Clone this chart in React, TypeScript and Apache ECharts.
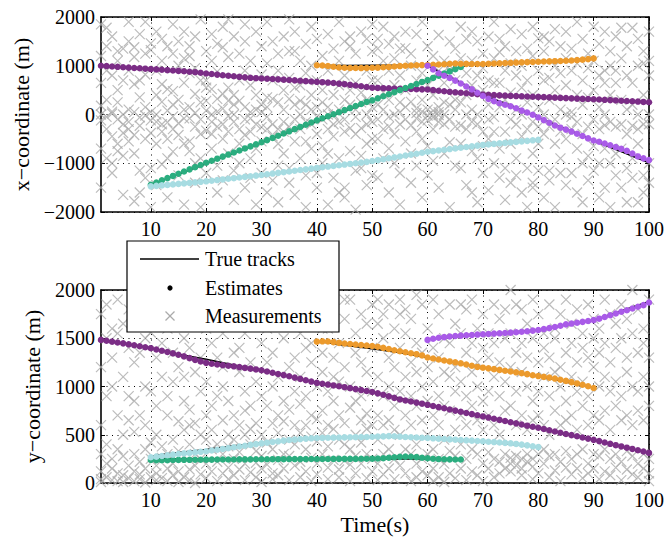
import React, { useEffect, useRef } from "react";
import * as echarts from "echarts";

// ---------- Data ----------
const timeTicks = [10, 20, 30, 40, 50, 60, 70, 80, 90, 100];

// Estimates (one value per second, starting at the given time)
const purpleStart = 1;
const purpleX = [
  1000, 993, 985, 978, 970, 962, 955, 948, 940, 932,
  925, 918, 910, 903, 895, 887, 878, 868, 856, 842,
  830, 818, 806, 795, 784, 773, 762, 752, 745, 739,
  733, 727, 721, 715, 708, 700, 692, 684, 677, 670,
  663, 655, 645, 634, 622, 609, 595, 580, 565, 550,
  545, 540, 536, 532, 528, 525, 522, 519, 516, 513,
  500, 488, 476, 465, 455, 445, 435, 426, 417, 409,
  403, 397, 392, 387, 382, 378, 373, 369, 365, 361,
  356, 351, 346, 341, 336, 331, 326, 321, 317, 313,
  307, 301, 295, 289, 283, 277, 271, 265, 258, 251,
];
const purpleY = [
  1483, 1474, 1465, 1456, 1447, 1437, 1427, 1417, 1407, 1397,
  1384, 1370, 1357, 1343, 1329, 1312, 1294, 1276, 1260, 1245,
  1236, 1228, 1221, 1215, 1209, 1201, 1193, 1185, 1177, 1168,
  1156, 1143, 1130, 1118, 1106, 1092, 1079, 1065, 1051, 1038,
  1029, 1020, 1011, 1002, 993, 983, 973, 963, 953, 943,
  929, 914, 898, 882, 866, 855, 844, 833, 822, 810,
  798, 786, 774, 762, 750, 738, 726, 714, 702, 690,
  678, 666, 654, 642, 630, 618, 606, 594, 583, 572,
  560, 547, 534, 521, 508, 496, 484, 472, 460, 447,
  434, 420, 406, 392, 379, 366, 353, 340, 326, 312,
];
const greenStart = 10;
const greenX = [
  -1440, -1395, -1350, -1305, -1260, -1215, -1170, -1125, -1080, -1035,
  -990, -948, -906, -864, -822, -780, -738, -696, -654, -612,
  -570, -525, -480, -435, -390, -345, -300, -255, -210, -165,
  -120, -78, -36, 6, 48, 90, 132, 174, 216, 258,
  290, 332, 374, 416, 458, 500, 542, 584, 626, 668,
  705, 750, 795, 840, 885, 930, 975,
];
const greenY = [
  238, 237, 236, 237, 238, 239, 240, 240, 241, 241,
  242, 242, 243, 243, 244, 244, 245, 245, 245, 246,
  246, 246, 247, 247, 247, 248, 248, 248, 248, 249,
  249, 249, 249, 250, 250, 250, 250, 250, 251, 251,
  252, 254, 257, 262, 267, 271, 273, 272, 268, 262,
  256, 251, 248, 246, 245, 244, 244,
];
const cyanStart = 10;
const cyanX = [
  -1474, -1464, -1454, -1444, -1434, -1423, -1413, -1402, -1392, -1381,
  -1371, -1358, -1345, -1332, -1319, -1306, -1293, -1280, -1267, -1254,
  -1241, -1226, -1212, -1197, -1183, -1168, -1154, -1139, -1125, -1110,
  -1096, -1082, -1068, -1055, -1041, -1027, -1014, -1000, -986, -972,
  -955, -936, -917, -898, -880, -861, -842, -823, -804, -785,
  -765, -751, -737, -723, -709, -695, -681, -667, -653, -639,
  -624, -614, -603, -593, -583, -572, -562, -551, -541, -530, -520,
];
const cyanY = [
  267, 273, 280, 287, 294, 301, 307, 312, 318, 323,
  329, 337, 345, 353, 361, 370, 378, 386, 395, 403,
  411, 418, 425, 432, 439, 445, 450, 455, 460, 463,
  466, 468, 469, 470, 472, 473, 474, 475, 476, 477,
  479, 481, 483, 486, 484, 480, 477, 474, 471, 469,
  466, 463, 459, 456, 452, 449, 446, 442, 439, 435,
  432, 428, 424, 420, 416, 411, 405, 398, 390, 381, 372,
];
const orangeStart = 40;
const orangeX = [
  1010, 1005, 995, 980, 965, 958, 955, 955, 952, 955,
  958, 962, 968, 976, 985, 993, 1000, 1006, 1010, 1013,
  1015, 1020, 1025, 1032, 1040, 1045, 1042, 1038, 1036, 1035,
  1035, 1040, 1045, 1050, 1055, 1060, 1065, 1070, 1074, 1078,
  1082, 1086, 1090, 1094, 1098, 1102, 1108, 1116, 1125, 1136, 1150,
];
const orangeY = [
  1465, 1468, 1466, 1460, 1452, 1445, 1440, 1435, 1430, 1425,
  1420, 1412, 1400, 1388, 1376, 1365, 1355, 1345, 1335, 1322,
  1300, 1290, 1280, 1270, 1260, 1250, 1240, 1228, 1215, 1203,
  1195, 1188, 1180, 1172, 1163, 1155, 1147, 1138, 1128, 1117,
  1108, 1100, 1092, 1082, 1070, 1058, 1045, 1032, 1018, 1002, 985,
];
const violetStart = 60;
const violetX = [
  1000, 925, 845, 795, 750, 695, 636, 575, 515, 445,
  380, 320, 275, 232, 200, 168, 128, 80, 40, -5,
  -60, -115, -170, -225, -270, -310, -350, -395, -440, -490,
  -533, -560, -595, -630, -668, -704, -745, -800, -860, -900, -935,
];
const violetY = [
  1483, 1495, 1505, 1512, 1518, 1523, 1527, 1531, 1534, 1538,
  1541, 1544, 1548, 1551, 1555, 1558, 1562, 1567, 1572, 1579,
  1586, 1595, 1605, 1617, 1630, 1644, 1652, 1661, 1670, 1679,
  1688, 1703, 1720, 1738, 1756, 1774, 1790, 1808, 1826, 1843, 1870,
];

// True tracks ([time, value])
const purpleTrueX = [[1, 1000], [10, 932], [20, 842], [30, 739], [40, 670], [50, 550], [60, 513], [70, 409], [80, 361], [90, 313], [100, 251]];
const purpleTrueY = [[1, 1490], [10, 1400], [15, 1335], [20, 1282], [25, 1222], [30, 1170], [40, 1040], [50, 945], [60, 810], [70, 690], [80, 572], [90, 447], [100, 312]];
const greenTrueX = [[10, -1440], [66, 975]];
const greenTrueY = [[10, 255], [20, 250], [30, 248], [40, 250], [50, 250], [55, 250], [60, 250], [66, 243]];
const cyanTrueX = [[10, -1474], [30, -1241], [50, -955], [60, -765], [80, -520]];
const cyanTrueY = [[10, 275], [12, 295], [15, 315], [20, 348], [25, 385], [30, 418], [40, 467], [50, 480], [55, 482], [60, 466], [70, 432], [80, 372]];
const orangeTrueX = [[40, 1010], [45, 1005], [50, 1008], [55, 1012], [60, 1015], [65, 1040], [70, 1035], [80, 1082], [90, 1150]];
const orangeTrueY = [[40, 1470], [45, 1428], [50, 1390], [55, 1350], [60, 1300], [70, 1195], [80, 1108], [90, 985]];
const violetTrueX = [[60, 1000], [65, 720], [69, 470], [70, 400], [75, 190], [80, -60], [90, -533], [100, -990]];
const violetTrueY = [[60, 1490], [70, 1541], [80, 1586], [90, 1688], [100, 1880]];

// Measurements (clutter), one list per second t = 1..100
const measX = [
  [1850, 1200, 650, 180, 0, -120, -700, -1500],
  [1780, 900, 300, -50, -300, -900, 1400],
  [1600, 800, 60, 20, -450, -1000, -1200],
  [1100, 500, 250, -100, -600, -750, 1300],
  [1350, 700, 0, -200, -380, -850, -1650],
  [1500, 900, 100, -150, -300, -550, 1900],
  [1380, 1180, 620, 50, -420, -800, -1780],
  [1650, 700, 350, -60, -230, -1150, -1600],
  [1250, 820, 150, -20, -500, -1300, 1900],
  [1460, 1320, 50, -120, -380, -1100, -1900],
  [1700, 900, 400, 0, -150, -600, -1450],
  [1100, 620, 260, -200, -350, -1020, 1550],
  [1400, 520, 80, -160, -500, -900, -1700],
  [1250, 480, 200, -40, -300, -760, 1850],
  [1500, 1000, 300, -180, -420, -1250],
  [1150, 650, 100, -80, -600, -1850, 1700],
  [1400, 1200, 850, 150, -80, -550, -750],
  [1600, 950, 420, 30, -250, -1000, -1400],
  [1950, 700, 250, -100, -400, -900, -1900],
  [1300, 700, 550, 280, 80, -330, -1200],
  [1100, 520, 0, -150, -400, -700, 1650],
  [1450, 880, 320, 60, -250, -1050, -1600],
  [1800, 1380, 420, 120, -200, -500, -1350],
  [1180, 550, 280, -30, -350, -800, 1950],
  [1600, 400, 200, 0, -150, -1150, -1750],
  [1250, 700, 280, -300, -600, -1000],
  [1500, 900, 150, -100, -420, -1500, 1850],
  [1100, 600, 50, -80, -350, -900, -1300],
  [1700, 400, 100, -200, -700, -1850],
  [1400, 820, 200, 50, -260, -550, -1200],
  [1050, 350, 150, -50, -300, -1600, 1900],
  [1500, 700, 320, -200, -450, -1350],
  [1250, 900, 250, -300, -600, -1050, -1800],
  [1600, 500, 100, -150, -350, -800],
  [1300, 750, 320, -250, -1100, -1400, 1950],
  [1700, 1300, 550, 200, -100, -550, -1650],
  [1100, 600, 280, 0, -300, -900],
  [1450, 850, 200, -150, -550, -1250, -1900],
  [1800, 1000, 400, 100, -200, -700],
  [1550, 700, 150, -50, -400, -1200, -1500],
  [1200, 500, 250, -100, -650, -1000],
  [1650, 900, 150, 0, -300, -800, -1850],
  [1350, 400, 0, -200, -450, -1300],
  [1900, 1100, 600, 100, -150, -900, -1600],
  [1500, 800, 300, -100, -350, -1500, -1700],
  [1600, 1400, 500, 200, -280, -750],
  [1250, 650, 100, -50, -400, -1150, -1950],
  [1700, 450, 250, -280, -850, -1100],
  [1550, 900, 300, 0, -200, -600, -1450],
  [1300, 700, 150, -150, -500, -1250, 1850],
  [1550, 1350, 700, 200, -100, -500, -1300],
  [1800, 1100, 450, 100, -300, -900],
  [1450, 900, 300, -50, -250, -700, -1600],
  [1600, 1150, 600, 0, -400, -1000],
  [1350, 800, 250, 50, -200, -1200, -1850],
  [1700, 1360, 500, 150, -100, -550],
  [1250, 1000, 260, -220, -800, -1400],
  [1650, 700, 120, 30, -80, -350, -1050],
  [1900, 850, 300, 60, -150, -500, -1700],
  [1400, 600, 100, -20, -120, -650, -1250],
  [1200, 400, 0, 80, -60, -300, -950],
  [1630, 900, 150, -10, -150, 50, -1500],
  [1100, 650, 250, 0, -200, -800],
  [1500, 1000, 900, 200, -100, -570, -1900],
  [1350, 700, 300, 100, -250, -1050],
  [1800, 1150, 250, -220, -600, -1100],
  [1550, 850, 400, 0, -300, -1450],
  [1700, 1100, 600, 100, -150, -750, -1600],
  [1500, 800, 0, -200, -900, -1800],
  [1250, 950, 500, -350, -650, -1200],
  [1600, 700, 200, -100, -500, -1550],
  [1900, 1150, 650, -50, -350, -1000],
  [1550, 1280, 650, 150, -700, -1300],
  [1400, 900, 300, -350, -1100, -1750],
  [1750, 1050, 450, -100, -600, -1400],
  [1300, 800, 100, -200, -900, -1250],
  [1650, 1000, 550, 0, -450, -1600],
  [1350, 700, 250, -300, -1100, -1900],
  [1800, 1200, 400, -150, -800, -1400, -1500],
  [1560, 900, 150, -250, -600, -1150],
  [1600, 1300, 700, 0, -400, -1700],
  [1500, 750, 300, -250, -1150, -1350],
  [1750, 1000, 500, -100, -600, -1900],
  [1400, 850, 100, -350, -900, -1200],
  [1700, 1150, 600, 0, -500, -1450],
  [1350, 900, 50, -50, -300, -1200],
  [1900, 1050, 400, -150, -700, -1600],
  [1550, 700, 200, -400, -1000, -1800],
  [1250, 950, 350, -250, -850, -1350],
  [1800, 1100, 500, -100, -650, -1150],
  [1450, 800, 150, -300, -1000, -1700],
  [1700, 650, 900, 0, -220, -700, -1500],
  [1300, 1000, 400, -150, -1000, -1900],
  [1600, 900, 650, -250, -800, -1250],
  [1780, 1150, 300, -200, -700, -1500],
  [1400, 800, 100, -400, -1100, -1800],
  [1780, 650, 200, -230, -900, -1300],
  [1550, 1000, 0, -300, -600, -1800],
  [1300, 1050, 400, -200, -1250, -1600],
  [1700, 1100, 800, 0, -200, -1000, -1400],
];
const measY = [
  [1750, 1200, 600, 300, 120, 40, 10],
  [1850, 1500, 900, 400, 200, 60],
  [1300, 1000, 250, 150, 30, 1600],
  [1550, 700, 350, 100, 20, 1900],
  [1650, 1100, 500, 280, 80, 10],
  [1400, 900, 650, 180, 50, 1800],
  [1250, 850, 530, 300, 120, 20],
  [1950, 1350, 700, 220, 90, 40],
  [1500, 1000, 600, 350, 150, 5],
  [1800, 1560, 950, 420, 250, 60],
  [1300, 800, 500, 180, 100, 30],
  [1700, 1100, 380, 260, 50, 1450],
  [1600, 900, 700, 300, 150, 20],
  [1350, 1050, 450, 200, 80, 1900],
  [1750, 1200, 640, 330, 120, 10],
  [1500, 850, 550, 280, 60, 1100],
  [1400, 760, 600, 400, 140, 30],
  [1850, 1150, 620, 300, 180, 0],
  [1300, 950, 500, 250, 90, 1700],
  [1600, 1050, 700, 450, 200, 50],
  [1450, 800, 550, 350, 120, 1900],
  [1750, 1300, 900, 400, 220, 20],
  [1200, 1000, 650, 300, 100, 1550],
  [1650, 850, 500, 380, 160, 40],
  [1900, 1350, 700, 450, 250, 80],
  [1400, 1150, 600, 320, 140, 1800],
  [1550, 950, 750, 500, 200, 30],
  [1250, 800, 560, 400, 110, 1700],
  [1800, 1050, 620, 330, 210, 60],
  [1450, 900, 500, 280, 150, 10],
  [1600, 1250, 800, 420, 190, 1950],
  [1350, 1000, 620, 350, 100, 40],
  [1700, 1100, 700, 520, 240, 80],
  [1500, 850, 640, 300, 150, 1900],
  [1900, 1200, 760, 450, 280, 30],
  [1300, 950, 600, 400, 180, 1650],
  [1550, 1100, 820, 520, 220, 60],
  [1750, 900, 600, 350, 120, 1400],
  [1450, 1250, 700, 480, 260, 20],
  [1850, 1000, 660, 430, 200, 90],
  [1350, 1150, 750, 520, 300, 1600],
  [1600, 950, 600, 380, 160, 40],
  [1800, 1300, 850, 560, 240, 1100],
  [1450, 1050, 700, 450, 140, 60],
  [1700, 1200, 620, 400, 230, 1900],
  [1900, 1000, 780, 350, 190, 20],
  [1550, 1350, 850, 500, 280, 100],
  [1250, 900, 650, 420, 200, 1750],
  [1650, 1150, 720, 560, 300, 50],
  [1850, 1400, 950, 600, 250, 120],
  [1900, 1650, 1100, 700, 450, 200, 30],
  [1750, 1500, 900, 600, 300, 90],
  [1850, 1300, 1000, 650, 350, 150],
  [1600, 1200, 800, 550, 250, 40],
  [1900, 1750, 1400, 950, 500, 180],
  [1800, 1550, 1100, 700, 350, 100],
  [1700, 1250, 900, 600, 300, 20],
  [1950, 1450, 1150, 800, 400, 200, 60],
  [1850, 1350, 1000, 650, 250, 120],
  [1600, 1200, 850, 500, 300, 80],
  [1900, 1400, 1050, 700, 350, 150, 20],
  [1750, 1300, 900, 600, 250, 60],
  [1500, 1150, 800, 450, 200, 10],
  [1850, 1450, 1100, 750, 330, 100],
  [1650, 1200, 950, 550, 280, 50],
  [1850, 1550, 1050, 700, 400, 150],
  [1800, 1350, 900, 600, 250, 30],
  [1900, 1450, 1150, 800, 350, 120],
  [1600, 1250, 1000, 650, 300, 80],
  [1750, 1400, 850, 550, 200, 20],
  [1550, 1300, 950, 700, 320, 150],
  [1850, 1450, 1100, 600, 250, 60],
  [1700, 1250, 900, 500, 220, 100],
  [1800, 1500, 1050, 750, 300, 150],
  [2000, 1550, 1200, 800, 260, 200, 120],
  [1850, 1350, 950, 600, 280, 180],
  [1800, 1450, 1150, 700, 250, 150, 80],
  [1650, 1300, 1000, 550, 300, 220],
  [1900, 1500, 850, 650, 250, 170, 40],
  [1750, 1250, 950, 700, 300, 100],
  [1550, 1400, 1100, 600, 350, 200],
  [1850, 1300, 900, 500, 280, 60],
  [1600, 1500, 1150, 750, 300, 130],
  [1750, 1200, 1000, 600, 220, 20],
  [1900, 1350, 850, 650, 330, 160],
  [1650, 1450, 1100, 700, 250, 90],
  [1800, 1250, 950, 550, 300, 150],
  [1550, 1400, 1050, 800, 350, 50],
  [1850, 1300, 900, 600, 200, 100],
  [1700, 1500, 1200, 700, 300, 150],
  [1600, 1350, 1000, 650, 280, 40],
  [1900, 1450, 1100, 750, 350, 120],
  [1750, 1250, 950, 550, 250, 80],
  [1650, 1400, 1050, 800, 300, 160],
  [1850, 1500, 900, 650, 220, 30],
  [1700, 1300, 1150, 700, 330, 140],
  [2000, 1550, 1000, 600, 280, 90],
  [1800, 1350, 950, 750, 200, 60],
  [1600, 1450, 1100, 650, 300, 150],
  [1900, 1300, 1000, 800, 250, 100, 20],
];

// ---------- Styling ----------
const FONT = '"Liberation Serif", "Times New Roman", serif';
const COLORS = {
  purple: "#7B2D86",
  green: "#2BAD7F",
  cyan: "#A7DCE2",
  orange: "#EC9A2C",
  violet: "#A95BE8",
  meas: "#ABABAB",
};
const CROSS = "path://M0,0L10,10M10,0L0,10";

const toSeries = (start: number, vals: number[]) => vals.map((v, i) => [start + i, v]);
const toMeas = (lists: number[][]) => lists.flatMap((vals, i) => vals.map((v) => [i + 1, v]));
const fmt = (v: number) => String(v).replace("-", "\u2212");

export default function App() {
  const ref = useRef<HTMLDivElement>(null);

  useEffect(() => {
    if (!ref.current) return;
    const chart = echarts.init(ref.current, null, { renderer: "svg" });

    const grids = [
      { left: 101, top: 17, width: 551, height: 195 },
      { left: 101, top: 290, width: 551, height: 193 },
    ];

    const axisLine = { show: true, onZero: false, lineStyle: { color: "#000", width: 1.6 } };
    const splitLine = { show: true, lineStyle: { color: "#000", type: [1, 4.5], width: 1 } };
    const tickStyle = { show: true, inside: true, length: 4, lineStyle: { color: "#000", width: 1 } };
    const labelStyle = { color: "#000", fontFamily: FONT, fontSize: 20 };

    const xAxes: any[] = [];
    const yAxes: any[] = [];
    [0, 1].forEach((g) => {
      xAxes.push({
        type: "value", gridIndex: g, min: 1, max: 100, position: "bottom",
        axisLine, axisTick: { ...tickStyle, customValues: timeTicks },
        axisLabel: { ...labelStyle, margin: 7, customValues: timeTicks },
        splitLine,
        name: g === 1 ? "Time(s)" : "",
        nameLocation: "middle", nameGap: 30,
        nameTextStyle: { color: "#000", fontFamily: FONT, fontSize: 22 },
      });
      xAxes.push({
        type: "value", gridIndex: g, min: 1, max: 100, position: "top",
        axisLine, axisTick: { ...tickStyle, customValues: timeTicks },
        axisLabel: { show: false }, splitLine: { show: false },
      });
    });
    yAxes.push({
      type: "value", gridIndex: 0, min: -2000, max: 2000, interval: 1000, position: "left",
      axisLine, axisTick: tickStyle,
      axisLabel: { ...labelStyle, margin: 6, formatter: fmt },
      splitLine,
      name: "x\u2212coordinate (m)", nameLocation: "middle", nameGap: 58, nameRotate: 90,
      nameTextStyle: { color: "#000", fontFamily: FONT, fontSize: 22 },
    });
    yAxes.push({
      type: "value", gridIndex: 0, min: -2000, max: 2000, interval: 1000, position: "right",
      axisLine, axisTick: tickStyle, axisLabel: { show: false }, splitLine: { show: false },
    });
    yAxes.push({
      type: "value", gridIndex: 1, min: 0, max: 2000, interval: 500, position: "left",
      axisLine, axisTick: tickStyle,
      axisLabel: { ...labelStyle, margin: 6, formatter: fmt },
      splitLine,
      name: "y\u2212coordinate (m)", nameLocation: "middle", nameGap: 58, nameRotate: 90,
      nameTextStyle: { color: "#000", fontFamily: FONT, fontSize: 22 },
    });
    yAxes.push({
      type: "value", gridIndex: 1, min: 0, max: 2000, interval: 500, position: "right",
      axisLine, axisTick: tickStyle, axisLabel: { show: false }, splitLine: { show: false },
    });

    const series: any[] = [];
    const addPlot = (
      g: number,
      meas: number[][],
      tracks: { color: string; start: number; vals: number[]; truth: number[][] }[]
    ) => {
      const xi = g * 2;
      const yi = g * 2;
      series.push({
        type: "scatter", xAxisIndex: xi, yAxisIndex: yi, z: 1,
        symbol: CROSS, symbolSize: 10, silent: true,
        itemStyle: { color: "none", borderColor: COLORS.meas, borderWidth: 1.2 },
        data: toMeas(meas),
      });
      tracks.forEach((tr) => {
        series.push({
          type: "line", xAxisIndex: xi, yAxisIndex: yi, z: 2, showSymbol: false, silent: true,
          lineStyle: { color: "#000", width: 1.5 }, data: tr.truth,
        });
      });
      tracks.forEach((tr) => {
        series.push({
          type: "scatter", xAxisIndex: xi, yAxisIndex: yi, z: 3, silent: true,
          symbol: "circle", symbolSize: 6.5,
          itemStyle: { color: tr.color, opacity: 1 },
          data: toSeries(tr.start, tr.vals),
        });
      });
    };

    addPlot(0, measX, [
      { color: COLORS.purple, start: purpleStart, vals: purpleX, truth: purpleTrueX },
      { color: COLORS.green, start: greenStart, vals: greenX, truth: greenTrueX },
      { color: COLORS.cyan, start: cyanStart, vals: cyanX, truth: cyanTrueX },
      { color: COLORS.orange, start: orangeStart, vals: orangeX, truth: orangeTrueX },
      { color: COLORS.violet, start: violetStart, vals: violetX, truth: violetTrueX },
    ]);
    addPlot(1, measY, [
      { color: COLORS.purple, start: purpleStart, vals: purpleY, truth: purpleTrueY },
      { color: COLORS.green, start: greenStart, vals: greenY, truth: greenTrueY },
      { color: COLORS.cyan, start: cyanStart, vals: cyanY, truth: cyanTrueY },
      { color: COLORS.orange, start: orangeStart, vals: orangeY, truth: orangeTrueY },
      { color: COLORS.violet, start: violetStart, vals: violetY, truth: violetTrueY },
    ]);

    const legendFont = `20px ${FONT}`;
    const graphic: any[] = [
      { type: "rect", z: 100, shape: { x: 127, y: 241, width: 212, height: 91 },
        style: { fill: "#fff", stroke: "#000", lineWidth: 1.2 } },
      { type: "line", z: 101, shape: { x1: 140, y1: 259, x2: 199, y2: 259 },
        style: { stroke: "#000", lineWidth: 1.5 } },
      { type: "circle", z: 101, shape: { cx: 170, cy: 288, r: 2.6 }, style: { fill: "#000" } },
      { type: "line", z: 101, shape: { x1: 165.5, y1: 311.5, x2: 174.5, y2: 320.5 },
        style: { stroke: COLORS.meas, lineWidth: 1.2 } },
      { type: "line", z: 101, shape: { x1: 174.5, y1: 311.5, x2: 165.5, y2: 320.5 },
        style: { stroke: COLORS.meas, lineWidth: 1.2 } },
      { type: "text", z: 101, x: 205, y: 259,
        style: { text: "True tracks", font: legendFont, fill: "#000", verticalAlign: "middle" } },
      { type: "text", z: 101, x: 205, y: 288,
        style: { text: "Estimates", font: legendFont, fill: "#000", verticalAlign: "middle" } },
      { type: "text", z: 101, x: 205, y: 316,
        style: { text: "Measurements", font: legendFont, fill: "#000", verticalAlign: "middle" } },
    ];

    chart.setOption({
      animation: false,
      backgroundColor: "#fff",
      grid: grids,
      xAxis: xAxes,
      yAxis: yAxes,
      series,
      graphic,
    });

    return () => chart.dispose();
  }, []);

  return (
    <div
      ref={ref}
      style={{ position: "fixed", left: 0, top: 0, width: 667, height: 541, background: "#fff" }}
    />
  );
}
